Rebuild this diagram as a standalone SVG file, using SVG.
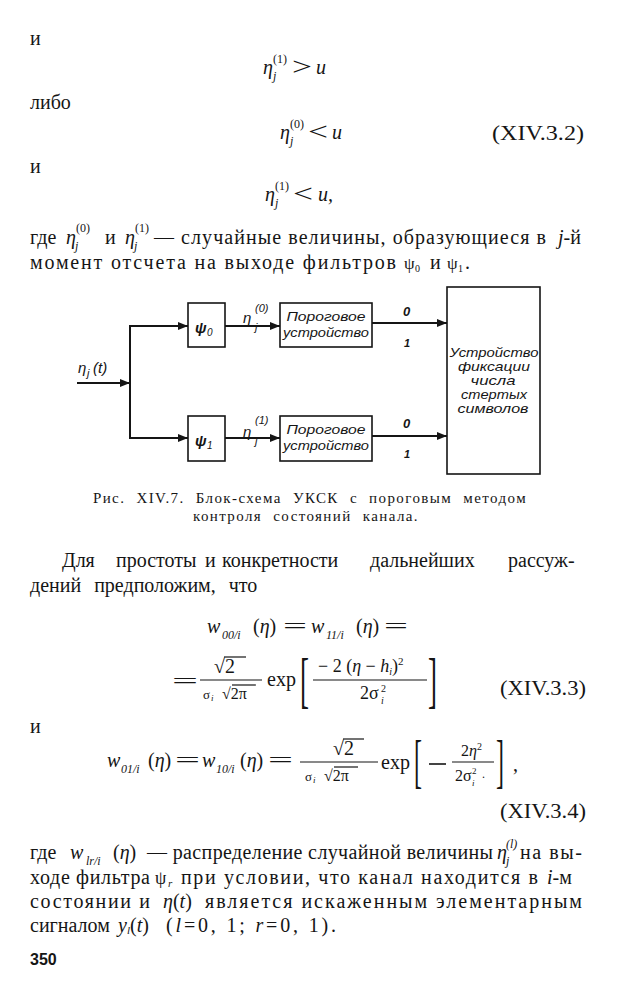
<svg xmlns="http://www.w3.org/2000/svg" width="625" height="1000" viewBox="0 0 625 1000">
<defs>
<style>
.t{font-family:"Liberation Serif","DejaVu Serif",serif;font-size:20px;fill:#151515}
.m{font-family:"Liberation Serif","DejaVu Serif",serif;font-size:20px;fill:#151515}
.i{font-style:italic}
.sm{font-size:12px}
.cap{font-family:"Liberation Serif","DejaVu Serif",serif;font-size:15px;fill:#151515;letter-spacing:1.4px;word-spacing:6px}
.d{font-family:"Liberation Sans",sans-serif;font-style:italic;font-size:13px;fill:#151515}
.dl{font-family:"Liberation Sans",sans-serif;font-style:italic;font-size:15px;fill:#151515}
.ln{stroke:#151515;stroke-width:2;fill:none}
.box{fill:#fff;stroke:#151515;stroke-width:1.6}
.bar{stroke:#151515;stroke-width:1.2}
</style>
<marker id="ah" markerUnits="userSpaceOnUse" markerWidth="10" markerHeight="8" refX="10" refY="4" orient="auto">
<path d="M0,0 L10,4 L0,8 z" fill="#151515"/>
</marker>
</defs>
<rect width="625" height="1000" fill="#fff"/>

<g id="top-text">
<text class="t" x="30" y="45">и</text>
<text class="m i" x="263" y="74">η</text>
<text class="m i sm" x="273" y="80">j</text>
<text class="m sm" x="273" y="63">(1)</text>
<text class="m" x="292" y="75" style="font-size:25px" textLength="20" lengthAdjust="spacingAndGlyphs">&gt;</text>
<text class="m i" x="316" y="74">u</text>

<text class="t" x="30" y="109">либо</text>
<text class="m i" x="280" y="139">η</text>
<text class="m i sm" x="290" y="145">j</text>
<text class="m sm" x="290" y="128">(0)</text>
<text class="m" x="308" y="140" style="font-size:25px" textLength="20" lengthAdjust="spacingAndGlyphs">&lt;</text>
<text class="m i" x="332" y="139">u</text>
<text class="m" x="492" y="140" textLength="92" lengthAdjust="spacingAndGlyphs">(XIV.3.2)</text>

<text class="t" x="30" y="173">и</text>
<text class="m i" x="265" y="201">η</text>
<text class="m i sm" x="275" y="207">j</text>
<text class="m sm" x="275" y="190">(1)</text>
<text class="m" x="293" y="202" style="font-size:25px" textLength="20" lengthAdjust="spacingAndGlyphs">&lt;</text>
<text class="m i" x="318" y="201">u,</text>

<text class="t" x="30" y="244">где</text>
<text class="m i" x="66" y="244">η</text>
<text class="m i sm" x="75" y="250">j</text>
<text class="m sm" x="76" y="232">(0)</text>
<text class="t" x="105" y="244">и</text>
<text class="m i" x="125" y="244">η</text>
<text class="m i sm" x="134" y="250">j</text>
<text class="m sm" x="135" y="232">(1)</text>
<text class="t" x="154" y="244" textLength="392" lengthAdjust="spacing">— случайные величины, образующиеся в</text>
<text class="t" x="558" y="244"><tspan class="m i">j</tspan>-й</text>

<text class="t" x="30" y="269" textLength="366" lengthAdjust="spacing">момент отсчета на выходе фильтров</text>
<text class="t" x="404" y="269" style="font-size:17px">ψ</text>
<text class="t" x="415" y="272" style="font-size:10px">0</text>
<text class="t" x="430" y="269">и</text>
<text class="t" x="447" y="269" style="font-size:17px">ψ</text>
<text class="t" x="458" y="272" style="font-size:10px">1</text>
<text class="t" x="465" y="269">.</text>
</g>

<g id="connectors">
<line class="ln" x1="77" y1="383" x2="130" y2="383" marker-end="url(#ah)"/>
<line class="ln" x1="130" y1="325" x2="130" y2="439"/>
<line class="ln" x1="129" y1="326" x2="188" y2="326" marker-end="url(#ah)"/>
<line class="ln" x1="225" y1="326" x2="280" y2="326" marker-end="url(#ah)"/>
<line class="ln" x1="372" y1="323" x2="447" y2="323" marker-end="url(#ah)"/>
<line class="ln" x1="129" y1="438" x2="188" y2="438" marker-end="url(#ah)"/>
<line class="ln" x1="225" y1="438" x2="280" y2="438" marker-end="url(#ah)"/>
<line class="ln" x1="372" y1="436" x2="447" y2="436" marker-end="url(#ah)"/>
</g>

<g id="input-label">
<text class="dl" x="78" y="373">η</text>
<text class="dl" x="87" y="377" style="font-size:11px">j</text>
<text class="dl" x="93" y="373">(t)</text>
</g>

<g id="psi0">
<rect class="box" x="188" y="303" width="37" height="44"/>
<text class="dl" x="195" y="333" style="font-weight:bold">ψ</text>
<text class="dl" x="207" y="336" style="font-size:10px">0</text>
</g>
<g id="psi1">
<rect class="box" x="188" y="416" width="37" height="45"/>
<text class="dl" x="195" y="446" style="font-weight:bold">ψ</text>
<text class="dl" x="207" y="449" style="font-size:10px">1</text>
</g>

<g id="eta0-label">
<text class="dl" x="243" y="323">η</text>
<text class="dl" x="255" y="331" style="font-size:11px">j</text>
<text class="dl" x="255" y="312" style="font-size:11px">(0)</text>
</g>
<g id="eta1-label">
<text class="dl" x="243" y="437">η</text>
<text class="dl" x="255" y="445" style="font-size:11px">j</text>
<text class="dl" x="255" y="424" style="font-size:11px">(1)</text>
</g>

<g id="thr0">
<rect class="box" x="280" y="303" width="92" height="44"/>
<text class="d" x="326" y="321" text-anchor="middle" textLength="79" lengthAdjust="spacingAndGlyphs">Пороговое</text>
<text class="d" x="326" y="337" text-anchor="middle" textLength="86" lengthAdjust="spacingAndGlyphs">устройство</text>
</g>
<g id="thr1">
<rect class="box" x="280" y="416" width="92" height="45"/>
<text class="d" x="326" y="434" text-anchor="middle" textLength="79" lengthAdjust="spacingAndGlyphs">Пороговое</text>
<text class="d" x="326" y="450" text-anchor="middle" textLength="86" lengthAdjust="spacingAndGlyphs">устройство</text>
</g>

<g id="out-labels">
<text class="dl" x="403" y="316" style="font-size:13px;font-weight:bold">0</text>
<text class="dl" x="404" y="347" style="font-size:11px;font-weight:bold">1</text>
<text class="dl" x="403" y="428" style="font-size:13px;font-weight:bold">0</text>
<text class="dl" x="404" y="458" style="font-size:11px;font-weight:bold">1</text>
</g>

<g id="counter">
<rect class="box" x="447" y="287" width="93" height="187"/>
<text class="d" x="494" y="357" text-anchor="middle" textLength="89" lengthAdjust="spacingAndGlyphs">Устройство</text>
<text class="d" x="494" y="371" text-anchor="middle" textLength="72" lengthAdjust="spacingAndGlyphs">фиксации</text>
<text class="d" x="493" y="385" text-anchor="middle" textLength="45" lengthAdjust="spacingAndGlyphs">числа</text>
<text class="d" x="494" y="399" text-anchor="middle" textLength="66" lengthAdjust="spacingAndGlyphs">стертых</text>
<text class="d" x="493" y="413" text-anchor="middle" textLength="71" lengthAdjust="spacingAndGlyphs">символов</text>
</g>

<g id="caption">
<text class="cap" x="310" y="503" text-anchor="middle">Рис. XIV.7. Блок-схема УКСК с пороговым методом</text>
<text class="cap" x="306" y="521" text-anchor="middle">контроля состояний канала.</text>
</g>

<g id="para">
<text class="t" y="567"><tspan x="62">Для</tspan><tspan x="116">простоты</tspan><tspan x="205">и</tspan><tspan x="222">конкретности</tspan><tspan x="370">дальнейших</tspan><tspan x="508">рассуж-</tspan></text>
<text class="t" x="30" y="592" style="word-spacing:8px">дений предположим, что</text>
</g>

<g id="formula-1">
<text class="m i" x="207" y="633">w</text>
<text class="m i sm" x="222" y="639">00/i</text>
<text class="m" x="253" y="633">(<tspan class="i">η</tspan>)</text>
<text class="m" x="283" y="633" textLength="24" lengthAdjust="spacingAndGlyphs">=</text>
<text class="m i" x="311" y="633">w</text>
<text class="m i sm" x="326" y="639">11/i</text>
<text class="m" x="356" y="633">(<tspan class="i">η</tspan>)</text>
<text class="m" x="384" y="633" textLength="24" lengthAdjust="spacingAndGlyphs">=</text>
</g>

<g id="formula-2">
<text class="m" x="172" y="688" textLength="26" lengthAdjust="spacingAndGlyphs">=</text>
<text class="m" x="214" y="673">√2</text>
<line class="bar" x1="224" y1="657" x2="246" y2="657"/>
<line class="bar" x1="200" y1="680" x2="262" y2="680"/>
<text class="m" x="203" y="699" style="font-size:13px">σ</text>
<text class="m i" x="211" y="701" style="font-size:9px">i</text>
<text class="m" x="222" y="699" style="font-size:16px">√2π</text>
<line class="bar" x1="232" y1="685" x2="256" y2="685"/>
<text class="m" x="267" y="686">exp</text>
<text class="m" x="300" y="701" style="font-size:62px" textLength="9" lengthAdjust="spacingAndGlyphs">[</text>
<text class="m" x="318" y="672" style="font-size:18px">− 2 (<tspan class="i">η</tspan> − <tspan class="i">h</tspan><tspan class="i" style="font-size:10px" dy="3">i</tspan><tspan dy="-3">)</tspan><tspan style="font-size:11px" dy="-7">2</tspan></text>
<line class="bar" x1="313" y1="680" x2="427" y2="680"/>
<text class="m" x="360" y="699" style="font-size:18px">2σ</text>
<text class="m i" x="381" y="704" style="font-size:10px">i</text>
<text class="m" x="381" y="692" style="font-size:10px">2</text>
<text class="m" x="428" y="701" style="font-size:62px" textLength="9" lengthAdjust="spacingAndGlyphs">]</text>
<text class="m" x="500" y="695" textLength="86" lengthAdjust="spacingAndGlyphs">(XIV.3.3)</text>
</g>

<text class="t" x="30" y="733">и</text>

<g id="formula-3">
<text class="m i" x="107" y="767">w</text>
<text class="m i sm" x="121" y="773">01/i</text>
<text class="m" x="148" y="767">(<tspan class="i">η</tspan>)</text>
<text class="m" x="175" y="767" textLength="25" lengthAdjust="spacingAndGlyphs">=</text>
<text class="m i" x="202" y="767">w</text>
<text class="m i sm" x="216" y="773">10/i</text>
<text class="m" x="240" y="767">(<tspan class="i">η</tspan>)</text>
<text class="m" x="268" y="767" textLength="25" lengthAdjust="spacingAndGlyphs">=</text>
<text class="m" x="333" y="755">√2</text>
<line class="bar" x1="343" y1="739" x2="364" y2="739"/>
<line class="bar" x1="300" y1="762" x2="378" y2="762"/>
<text class="m" x="305" y="781" style="font-size:13px">σ</text>
<text class="m i" x="313" y="783" style="font-size:9px">i</text>
<text class="m" x="324" y="781" style="font-size:16px">√2π</text>
<line class="bar" x1="334" y1="767" x2="358" y2="767"/>
<text class="m" x="381" y="769">exp</text>
<text class="m" x="414" y="781" style="font-size:60px" textLength="8" lengthAdjust="spacingAndGlyphs">[</text>
<line class="bar" x1="429" y1="764" x2="446" y2="764" style="stroke-width:1.6"/>
<text class="m" x="461" y="756" style="font-size:16px">2<tspan class="i">η</tspan><tspan style="font-size:10px" dy="-6">2</tspan></text>
<line class="bar" x1="452" y1="762" x2="494" y2="762"/>
<text class="m" x="455" y="781" style="font-size:16px">2σ</text>
<text class="m i" x="472" y="786" style="font-size:9px">i</text>
<text class="m" x="472" y="774" style="font-size:9px">2</text>
<text class="m" x="482" y="778" style="font-size:12px">.</text>
<text class="m" x="496" y="781" style="font-size:60px" textLength="8" lengthAdjust="spacingAndGlyphs">]</text>
<text class="m" x="513" y="771">,</text>
<text class="m" x="500" y="818" textLength="86" lengthAdjust="spacingAndGlyphs">(XIV.3.4)</text>
</g>

<g id="bottom-text">
<text class="t" x="30" y="859">где</text>
<text class="m i" x="70" y="859">w</text>
<text class="m i sm" x="86" y="865">lr/i</text>
<text class="m" x="113" y="859">(<tspan class="i">η</tspan>)</text>
<text class="t" x="147" y="859" textLength="346" lengthAdjust="spacing">— распределение случайной величины</text>
<text class="m i" x="497" y="859">η</text>
<text class="m i sm" x="506" y="865">j</text>
<text class="m i sm" x="506" y="848">(l)</text>
<text class="t" x="520" y="859" textLength="62" lengthAdjust="spacing">на вы-</text>

<text class="t" x="30" y="884" textLength="120" lengthAdjust="spacing">ходе фильтра</text>
<text class="t" x="155" y="884" style="font-size:18px">ψ</text>
<text class="m i" x="168" y="887" style="font-size:11px">r</text>
<text class="t" x="181" y="884" textLength="357" lengthAdjust="spacing">при условии, что канал находится в</text>
<text class="t" x="547" y="884"><tspan class="m i">i</tspan>-м</text>

<text class="t" x="30" y="908" textLength="120" lengthAdjust="spacing">состоянии и</text>
<text class="m" x="163" y="908"><tspan class="i">η</tspan>(<tspan class="i">t</tspan>)</text>
<text class="t" x="205" y="908" textLength="377" lengthAdjust="spacing">является искаженным элементарным</text>

<text class="t" x="30" y="932">сигналом</text>
<text class="m" x="118" y="932"><tspan class="i">y</tspan><tspan class="i" style="font-size:11px" dy="2">l</tspan><tspan dy="-2">(</tspan><tspan class="i">t</tspan>)</text>
<text class="m" x="166" y="932" textLength="170" lengthAdjust="spacing">(<tspan class="i">l</tspan>=0, 1; <tspan class="i">r</tspan>=0, 1).</text>

<text x="30" y="965" style="font-family:'Liberation Sans',sans-serif;font-size:16px;font-weight:bold;fill:#151515">350</text>
</g>
</svg>
